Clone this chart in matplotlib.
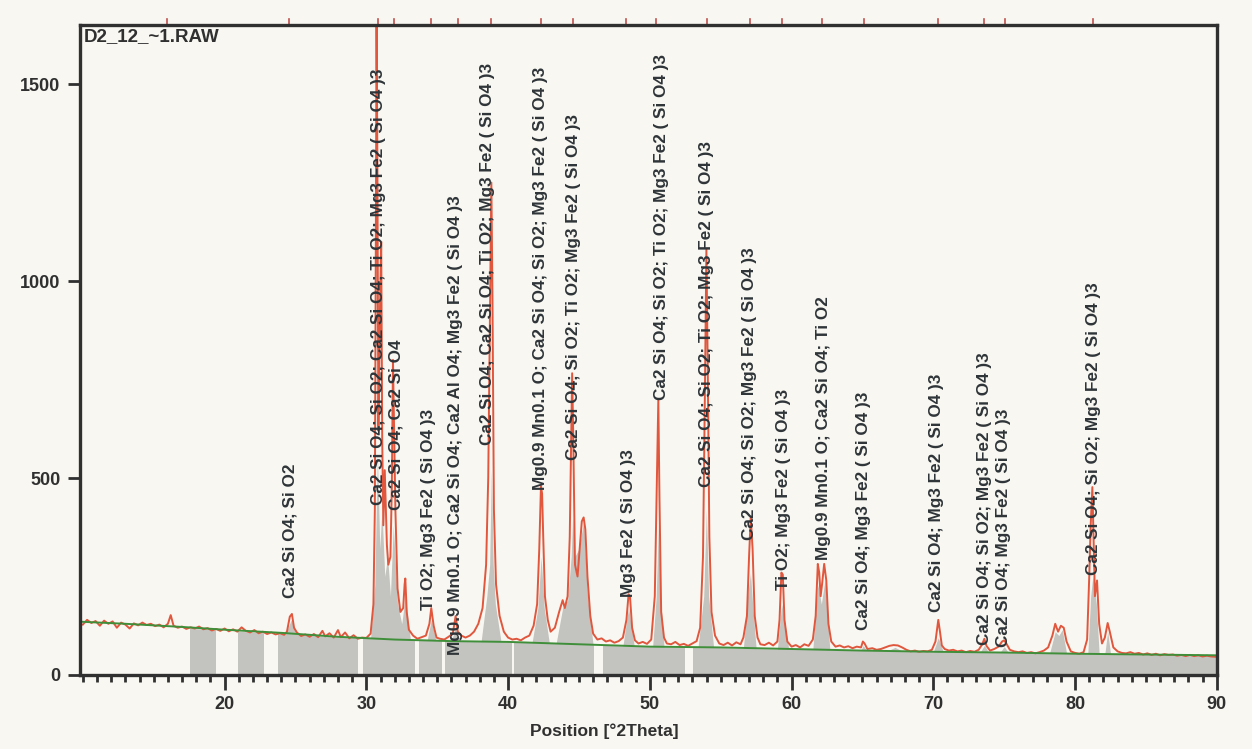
import matplotlib
matplotlib.use("Agg")
import matplotlib.pyplot as plt
import matplotlib.transforms as mtransforms
from matplotlib.ticker import MultipleLocator
import numpy as np

plt.rcParams['font.family'] = ['Liberation Sans', 'DejaVu Sans']

# ---------------- data ----------------
title_text = "D2_12_~1.RAW"
x_label = "Position [°2Theta]"

# background (green line)
bg_two_theta = [10, 13, 17, 20, 24, 28, 32, 36, 40, 45, 50, 55, 60, 65, 70, 75, 80, 85, 90]
bg_counts = [135, 130, 122, 115, 107, 97, 90, 86, 84, 78, 72, 70, 66, 62, 59, 57, 54, 52, 50]

# observed pattern (red line)
obs_two_theta = [
    10.0, 10.3, 10.6, 10.9, 11.2, 11.5, 11.8, 12.1, 12.4, 12.7, 13.0, 13.3, 13.6, 13.9, 14.2, 14.5,
    14.8, 15.1, 15.4, 15.7, 16.0, 16.2, 16.4, 16.7, 17.0, 17.3, 17.6, 17.9, 18.2, 18.5, 18.8, 19.1,
    19.4, 19.7, 20.0, 20.3, 20.6, 20.9, 21.2, 21.5, 21.8, 22.1, 22.4, 22.7, 23.0, 23.3, 23.6, 23.9,
    24.2, 24.4, 24.6, 24.75, 24.9, 25.1, 25.4, 25.7, 26.0, 26.3, 26.6, 26.9, 27.1, 27.4, 27.7, 28.0,
    28.2, 28.5, 28.8, 29.1, 29.4, 29.7, 30.0, 30.3,
    30.5, 30.6, 30.68, 30.72, 30.78, 30.85, 30.95, 31.05, 31.12, 31.2, 31.3, 31.45, 31.55, 31.7,
    31.8, 31.88, 31.95, 32.05, 32.2, 32.4, 32.6, 32.7, 32.75, 32.85, 33.0, 33.3, 33.6, 33.9, 34.2,
    34.45, 34.58, 34.75, 34.95, 35.2, 35.5, 35.8, 36.1, 36.3, 36.45, 36.7, 37.0, 37.3, 37.6, 37.9,
    38.2, 38.45, 38.6, 38.72, 38.82, 38.9, 39.0, 39.15, 39.4, 39.7, 40.0, 40.3, 40.6, 40.9, 41.2,
    41.5, 41.8, 42.05, 42.2, 42.32, 42.4, 42.48, 42.6, 42.8, 43.0, 43.3, 43.6, 43.85, 44.0, 44.2,
    44.35, 44.45, 44.52, 44.6, 44.72, 44.9, 45.05, 45.2, 45.33, 45.45, 45.6, 45.8, 46.0, 46.3, 46.6,
    46.9, 47.2, 47.5, 47.8, 48.1, 48.35, 48.5, 48.6, 48.75, 48.95, 49.2, 49.5, 49.8, 50.1, 50.35,
    50.5, 50.6, 50.68, 50.8, 51.0, 51.2, 51.5, 51.8, 52.1, 52.4, 52.7, 53.0, 53.3, 53.55, 53.75,
    53.88, 53.99, 54.08, 54.2, 54.35, 54.6, 54.9, 55.2, 55.5, 55.8, 56.1, 56.4, 56.6, 56.85, 57.0,
    57.12, 57.25, 57.4, 57.6, 57.8, 58.1, 58.4, 58.7, 59.0, 59.15, 59.28, 59.38, 59.5, 59.7, 60.0,
    60.3, 60.6, 60.9, 61.2, 61.5, 61.7, 61.85, 61.95, 62.05, 62.15, 62.3, 62.45, 62.6, 62.8, 63.1,
    63.4, 63.7, 64.0, 64.3, 64.6, 64.9, 65.03, 65.15, 65.35, 65.7, 66.0, 66.3, 66.6, 66.9, 67.2,
    67.5, 67.8, 68.1, 68.4, 68.7, 69.0, 69.3, 69.6, 69.9, 70.15, 70.35, 70.45, 70.6, 70.8, 71.1,
    71.4, 71.7, 72.0, 72.3, 72.6, 72.9, 73.2, 73.45, 73.6, 73.75, 74.0, 74.3, 74.6, 74.85, 75.0,
    75.15, 75.4, 75.7, 76.0, 76.3, 76.6, 76.9, 77.2, 77.5, 77.8, 78.1, 78.4, 78.6, 78.8, 79.0,
    79.2, 79.4, 79.7, 80.0, 80.3, 80.6, 80.85, 81.0, 81.1, 81.22, 81.3, 81.4, 81.55, 81.7, 81.9,
    82.1, 82.3, 82.45, 82.7, 83.0, 83.3, 83.6, 83.9, 84.2, 84.5, 84.8, 85.1, 85.4, 85.7, 86.0,
    86.3, 86.6, 86.9, 87.2, 87.5, 87.8, 88.1, 88.4, 88.7, 89.0, 89.3, 89.6, 90.0,
]
obs_counts = [
    128, 140, 132, 137, 125, 138, 130, 136, 120, 133, 128, 118, 131, 126, 133, 127,
    130, 124, 128, 121, 130, 152, 125, 120, 123, 117, 121, 118, 123, 116, 119, 113,
    117, 112, 118, 111, 116, 110, 121, 112, 108, 114, 106, 110, 104, 108, 103, 106,
    102, 110, 148, 155, 120, 108, 99, 103, 97, 104, 96, 112, 98, 106, 95, 114,
    96, 108, 93, 101, 92, 95, 94, 105,
    180, 420, 1200, 1680, 1300, 620, 900, 1100, 600, 380, 520, 330, 280, 300,
    480, 800, 650, 420, 220, 160, 170, 230, 245, 160, 115, 100, 92, 96, 100,
    130, 170, 125, 95, 92, 90, 97, 105, 150, 110, 100, 95, 100, 110, 130,
    170, 280, 500, 900, 1250, 950, 420, 230, 150, 110, 95, 90, 92, 88, 95,
    100, 125, 180, 320, 480, 460, 350, 200, 140, 110, 120, 160, 190, 170, 200,
    350, 600, 766, 600, 280, 250, 320, 390, 400, 370, 250, 150, 105, 90, 93,
    85, 88, 82, 86, 95, 140, 205, 200, 120, 88, 80, 84, 79, 90, 200,
    500, 700, 450, 160, 95, 80, 78, 84, 76, 79, 74, 80, 86, 120, 300,
    700, 1080, 800, 350, 160, 100, 80, 76, 82, 75, 83, 78, 95, 150, 300,
    400, 320, 150, 95, 78, 76, 82, 75, 85, 140, 260, 255, 140, 85, 72,
    76, 70, 78, 74, 90, 150, 282, 260, 200, 230, 282, 240, 130, 85, 72,
    75, 70, 73, 68, 72, 70, 85, 80, 66, 68, 64, 66, 70, 74, 76,
    75, 70, 64, 60, 62, 59, 61, 60, 64, 85, 140, 115, 75, 66, 62,
    64, 60, 62, 58, 61, 59, 64, 78, 92, 74, 62, 66, 72, 85, 88,
    80, 64, 60, 58, 60, 56, 58, 55, 58, 62, 70, 100, 130, 110, 125,
    120, 85, 60, 56, 54, 58, 90, 250, 380, 477, 350, 200, 240, 130, 80,
    95, 132, 110, 70, 60, 56, 55, 58, 54, 56, 52, 55, 51, 54, 50,
    53, 51, 52, 49, 51, 48, 51, 48, 50, 47, 49, 47, 46,
]

# calculated / fitted profile (grey area)
calc_two_theta = [
    10.0, 24.3, 24.7, 25.1, 30.3, 30.6, 30.78, 30.95, 31.1, 31.3, 31.5, 31.7, 31.9, 32.2, 32.5, 32.75,
    33.1, 34.3, 34.58, 34.9, 36.0, 36.3, 36.6, 38.1, 38.5, 38.7, 38.82, 38.95, 39.1, 39.5, 41.7,
    42.1, 42.33, 42.55, 42.9, 43.4, 43.85, 44.2, 44.45, 44.55, 44.7, 45.0, 45.33, 45.6, 46.0,
    48.1, 48.5, 48.9, 50.2, 50.45, 50.6, 50.75, 51.0, 53.4, 53.8, 53.99, 54.15, 54.5, 56.6, 56.9,
    57.1, 57.25, 57.5, 59.0, 59.3, 59.45, 59.8, 61.5, 61.85, 62.1, 62.35, 62.7, 64.9, 65.05, 65.3,
    66.8, 67.3, 67.8, 70.0, 70.35, 70.7, 73.3, 73.6, 73.9, 74.7, 75.0, 75.3, 78.2, 78.6, 78.85,
    79.1, 79.4, 80.9, 81.1, 81.25, 81.5, 81.7, 82.1, 82.3, 82.5, 90.0,
]
calc_counts = [
    135, 104, 140, 103, 93, 230, 560, 320, 420, 250, 300, 200, 380, 180, 130, 200,
    92, 90, 140, 88, 87, 120, 87, 86, 200, 280, 520, 280, 180, 85, 84,
    170, 300, 170, 83, 82, 170, 190, 300, 400, 300, 320, 390, 200, 76,
    74, 170, 73, 72, 200, 380, 200, 71, 70, 200, 420, 200, 70, 68, 200,
    260, 180, 67, 66, 180, 150, 66, 65, 230, 180, 240, 64, 63, 75, 62,
    62, 70, 61, 59, 95, 59, 58, 75, 58, 57, 72, 57, 55, 110, 100,
    115, 55, 54, 200, 250, 180, 54, 54, 110, 54, 50,
]

# intervals without grey background band
gap_starts = [9.8, 19.39, 22.80, 29.40, 33.43, 35.31, 40.25, 46.08, 52.48]
gap_ends = [17.55, 20.92, 23.80, 29.80, 33.73, 35.55, 40.44, 46.68, 53.03]

# reference-line markers above the frame
marker_two_theta = [15.93, 24.55, 30.80, 31.98, 34.58, 36.46, 38.81, 42.33, 44.55, 48.33,
                    50.44, 54.04, 57.09, 59.34, 62.15, 65.08, 70.35, 73.60, 75.03, 81.26]

# phase labels
label_two_theta = [24.61, 30.89, 32.09, 34.42, 36.32, 38.58, 42.32, 44.58, 48.53, 50.79,
                   53.97, 57.00, 59.40, 62.22, 65.05, 70.20, 73.59, 74.93, 81.28]
label_base = [195, 431, 419, 165, 51, 584, 470, 546, 198, 698,
              477, 343, 216, 292, 114, 160, 76, 72, 254]
label_texts = [
    "Ca2 Si O4; Si O2",
    "Ca2 Si O4; Si O2; Ca2 Si O4; Ti O2; Mg3 Fe2 ( Si O4 )3",
    "Ca2 Si O4; Ca2 Si O4",
    "Ti O2; Mg3 Fe2 ( Si O4 )3",
    "Mg0.9 Mn0.1 O; Ca2 Si O4; Ca2 Al O4; Mg3 Fe2 ( Si O4 )3",
    "Ca2 Si O4; Ca2 Si O4; Ti O2; Mg3 Fe2 ( Si O4 )3",
    "Mg0.9 Mn0.1 O; Ca2 Si O4; Si O2; Mg3 Fe2 ( Si O4 )3",
    "Ca2 Si O4; Si O2; Ti O2; Mg3 Fe2 ( Si O4 )3",
    "Mg3 Fe2 ( Si O4 )3",
    "Ca2 Si O4; Si O2; Ti O2; Mg3 Fe2 ( Si O4 )3",
    "Ca2 Si O4; Si O2; Ti O2; Mg3 Fe2 ( Si O4 )3",
    "Ca2 Si O4; Si O2; Mg3 Fe2 ( Si O4 )3",
    "Ti O2; Mg3 Fe2 ( Si O4 )3",
    "Mg0.9 Mn0.1 O; Ca2 Si O4; Ti O2",
    "Ca2 Si O4; Mg3 Fe2 ( Si O4 )3",
    "Ca2 Si O4; Mg3 Fe2 ( Si O4 )3",
    "Ca2 Si O4; Si O2; Mg3 Fe2 ( Si O4 )3",
    "Ca2 Si O4; Mg3 Fe2 ( Si O4 )3",
    "Ca2 Si O4; Si O2; Mg3 Fe2 ( Si O4 )3",
]

y_ticks = [0, 500, 1000, 1500]
x_ticks = [20, 30, 40, 50, 60, 70, 80, 90]

# ---------------- style ----------------
paper = "#f8f7f1"
ink = "#303030"
red = "#e0573e"
green = "#3f8f3a"
grey = "#c3c3bf"

fig = plt.figure(figsize=(12.52, 7.49), dpi=100, facecolor=paper)
ax = fig.add_axes([0.0639, 0.0988, 0.908, 0.8678], facecolor=paper)

ax.fill_between(calc_two_theta, 0, calc_counts, color=grey, lw=0, zorder=1)
for s, e in zip(gap_starts, gap_ends):
    ax.axvspan(s, e, color=paper, lw=0, zorder=1.5)

ax.plot(obs_two_theta, obs_counts, color=red, lw=1.4, zorder=3)
ax.plot(bg_two_theta, bg_counts, color=green, lw=1.4, zorder=4)

trans = mtransforms.blended_transform_factory(ax.transData, ax.transAxes)
for m in marker_two_theta:
    ax.plot([m, m], [1.0, 1.01], color="#c0504d", lw=1.2, transform=trans,
            clip_on=False, zorder=5)

for xp, yb, t in zip(label_two_theta, label_base, label_texts):
    ax.text(xp, yb, t, rotation=90, ha="center", va="bottom", fontsize=12.3,
            fontweight="bold", color="#2e3438", zorder=6)

ax.text(0.003, 0.996, title_text, transform=ax.transAxes, ha="left", va="top",
        fontsize=13.5, fontweight="bold", color=ink, zorder=7)

ax.set_xlim(9.8, 90)
ax.set_ylim(0, 1650)
ax.set_xticks(x_ticks)
ax.xaxis.set_minor_locator(MultipleLocator(1))
ax.set_yticks(y_ticks)
ax.tick_params(axis="x", which="major", direction="out", length=11, width=2, color=ink,
               labelsize=13, labelcolor=ink, pad=4)
ax.tick_params(axis="x", which="minor", direction="out", length=5, width=2, color=ink)
ax.tick_params(axis="y", which="major", direction="out", length=9, width=2, color=ink,
               labelsize=13, labelcolor=ink, pad=5)
for lab in ax.get_xticklabels() + ax.get_yticklabels():
    lab.set_fontweight("bold")
for sp in ax.spines.values():
    sp.set_color(ink)
    sp.set_linewidth(2.4)
    sp.set_zorder(8)

ax.text(0.461, -0.086, x_label, transform=ax.transAxes, ha="center", va="center",
        fontsize=12.5, fontweight="bold", color=ink)

fig.savefig("out.png", dpi=100, facecolor=paper)
